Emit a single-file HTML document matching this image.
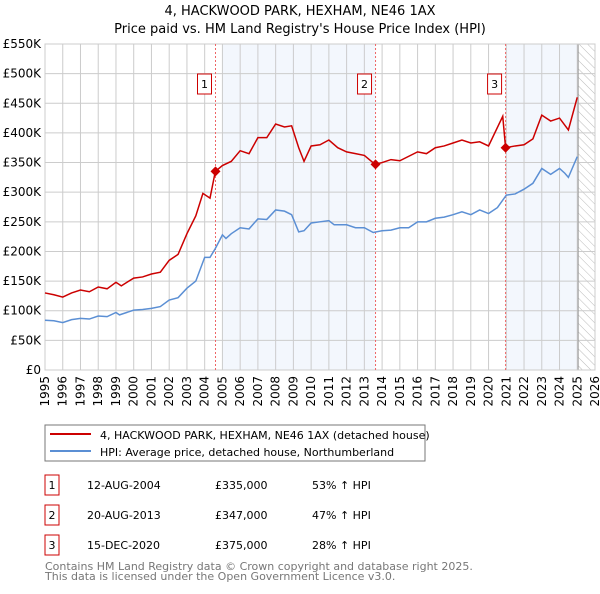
<!DOCTYPE html>
<html><head><meta charset="utf-8"><style>
body{margin:0;background:#fff;font-family:"DejaVu Sans","Liberation Sans",sans-serif;}
svg text{font-family:"DejaVu Sans","Liberation Sans",sans-serif;}
</style></head><body>
<svg id="c" width="600" height="590" xmlns="http://www.w3.org/2000/svg">
<text x="300" y="15" text-anchor="middle" font-size="13">4, HACKWOOD PARK, HEXHAM, NE46 1AX</text>
<text x="300" y="33" text-anchor="middle" font-size="13">Price paid vs. HM Land Registry's House Price Index (HPI)</text>
<g id="plot"></g>
<rect x="45" y="425" width="380" height="36" fill="#fff" stroke="#777"/>
<line x1="50" y1="434" x2="91" y2="434" stroke="#cc0000" stroke-width="2"/>
<text x="100" y="439" font-size="11">4, HACKWOOD PARK, HEXHAM, NE46 1AX (detached house)</text>
<line x1="50" y1="451" x2="91" y2="451" stroke="#5b8fd4" stroke-width="2"/>
<text x="100" y="456" font-size="11">HPI: Average price, detached house, Northumberland</text>
<g id="tbl" font-size="11"></g>
<text x="45" y="570" font-size="11" fill="#777">Contains HM Land Registry data © Crown copyright and database right 2025.</text>
<text x="45" y="580" font-size="11" fill="#777">This data is licensed under the Open Government Licence v3.0.</text>
</svg>
<script>
const hpiYears=[1995,1995.5,1996,1996.5,1997,1997.5,1998,1998.5,1999,1999.2,2000,2000.5,2001,2001.5,2002,2002.5,2003,2003.5,2004,2004.3,2004.6,2005,2005.2,2005.5,2006,2006.5,2007,2007.5,2008,2008.5,2008.9,2009.3,2009.6,2010,2010.5,2011,2011.3,2012,2012.5,2013,2013.5,2014,2014.5,2015,2015.5,2016,2016.5,2017,2017.5,2018,2018.5,2019,2019.5,2020,2020.5,2021,2021.5,2022,2022.5,2023,2023.5,2024,2024.3,2024.5,2025];
const hpiValues=[84,83,80,85,87,86,91,90,97,93,101,102,104,107,118,122,138,150,190,190,205,228,222,230,240,238,255,254,270,268,262,233,235,248,250,252,245,245,240,240,232,235,236,240,240,250,250,256,258,262,267,262,270,264,274,295,297,305,315,340,330,340,332,325,360];
const propYears=[1995,1995.5,1996,1996.5,1997,1997.5,1998,1998.5,1999,1999.3,2000,2000.5,2001,2001.5,2002,2002.5,2003,2003.5,2003.9,2004.3,2004.6,2005,2005.5,2006,2006.5,2007,2007.5,2008,2008.5,2008.9,2009.3,2009.6,2010,2010.5,2011,2011.5,2012,2012.5,2013,2013.6,2014,2014.5,2015,2016,2016.5,2017,2017.5,2018,2018.5,2019,2019.5,2020,2020.8,2020.96,2021.5,2022,2022.5,2023,2023.5,2024,2024.5,2025];
const propValues=[130,127,123,130,135,132,140,137,148,142,155,157,162,165,185,195,230,260,298,290,335,345,352,370,365,392,392,415,410,412,375,352,378,380,388,375,368,365,362,347,350,355,353,368,365,375,378,383,388,383,385,378,428,375,378,380,390,430,420,425,405,460];
const saleLabels=["1","2","3"];
const saleYears=[2004.61,2013.63,2020.96];
const saleValues=[335,347,375];
const saleDates=["12-AUG-2004","20-AUG-2013","15-DEC-2020"];
const salePrices=["£335,000","£347,000","£375,000"];
const saleHpi=["53% ↑ HPI","47% ↑ HPI","28% ↑ HPI"];
const yTicks=[0,50,100,150,200,250,300,350,400,450,500,550];
const yTickLabels=["£0","£50K","£100K","£150K","£200K","£250K","£300K","£350K","£400K","£450K","£500K","£550K"];
const xTicks=[1995,1996,1997,1998,1999,2000,2001,2002,2003,2004,2005,2006,2007,2008,2009,2010,2011,2012,2013,2014,2015,2016,2017,2018,2019,2020,2021,2022,2023,2024,2025,2026];

const L=45,R=595,T=44,B=370;
const X=y=>L+(y-1995)/31*(R-L);
const Y=v=>B-v/550*(B-T);
const NS="http://www.w3.org/2000/svg";
const g=document.getElementById('plot');
function mk(tag,a,p){const e=document.createElementNS(NS,tag);for(const k in a)e.setAttribute(k,a[k]);(p||g).appendChild(e);return e;}
let defs=mk('defs',{});
let pat=mk('pattern',{id:'hatch',width:6,height:6,patternUnits:'userSpaceOnUse',patternTransform:'rotate(-45)'},defs);
mk('line',{x1:0,y1:0,x2:0,y2:6,stroke:'#bbb','stroke-width':1},pat);
let e;
e=mk('rect',{x:X(2005),y:T,width:X(saleYears[1])-X(2005),height:B-T,fill:'#eef3fc',opacity:0.7});


e=mk('rect',{x:X(saleYears[2]),y:T,width:X(2025.05)-X(saleYears[2]),height:B-T,fill:'#eef3fc',opacity:0.7});


e=mk('rect',{x:X(2025.05),y:T,width:R-X(2025.05),height:B-T,fill:'url(#hatch)'});


yTicks.forEach((v,i)=>{
 e=mk('line',{x1:L,x2:R,y1:Y(v),y2:Y(v),stroke:'#ccc'});
 
 
 e=mk('text',{x:L-4,y:Y(v)+4,'text-anchor':'end','font-size':12});
 e.textContent=yTickLabels[i];
 
 
});
xTicks.forEach(y=>{
 e=mk('line',{x1:X(y),x2:X(y),y1:T,y2:B,stroke:'#ccc'});
 
 
 e=mk('text',{x:X(y)+4,y:B+6,'text-anchor':'end','font-size':12,transform:`rotate(-90 ${X(y)+4} ${B+6})`});
 e.textContent=y;
 
 
});
e=mk('line',{x1:X(2025.05),x2:X(2025.05),y1:T,y2:B,stroke:'#999'});


e=mk('rect',{x:L,y:T,width:R-L,height:B-T,fill:'none',stroke:'#ccc'});


saleYears.forEach((y,i)=>{
 e=mk('line',{x1:X(y),x2:X(y),y1:T,y2:B,stroke:'#e66','stroke-dasharray':'2,2'});
 
 
 e=mk('rect',{x:X(y)-21+7,y:74,width:14,height:20,fill:'#fff',stroke:'#cc0000'});
 e.setAttribute('x',X(y)-18);
 
 
 e=mk('text',{x:X(y)-11,y:88,'text-anchor':'middle','font-size':11});
 e.textContent=saleLabels[i];
 
 
});
e=mk('polyline',{points:hpiYears.map((y,i)=>X(y)+','+Y(hpiValues[i])).join(' '),fill:'none',stroke:'#5b8fd4','stroke-width':1.5});


e=mk('polyline',{points:propYears.map((y,i)=>X(y)+','+Y(propValues[i])).join(' '),fill:'none',stroke:'#cc0000','stroke-width':1.5});


saleYears.forEach((y,i)=>{
 const cx=X(y),cy=Y(saleValues[i]);
 e=mk('polygon',{points:`${cx},${cy-5} ${cx+5},${cy} ${cx},${cy+5} ${cx-5},${cy}`,fill:'#cc0000'});
 
 
});
const t=document.getElementById('tbl');
saleLabels.forEach((s,i)=>{
 const yy=475+i*30;
 e=mk('rect',{x:45,y:yy,width:14,height:20,fill:'#fff',stroke:'#cc0000'},t);
 
 
 const cells=[[52,s,'middle'],[87,saleDates[i],'start'],[215,salePrices[i],'start'],[312,saleHpi[i],'start']];
 cells.forEach(c=>{
  e=mk('text',{x:c[0],y:yy+14,'text-anchor':c[2]},t);
  e.textContent=c[1];
  
  
 });
});
</script>
</body></html>
